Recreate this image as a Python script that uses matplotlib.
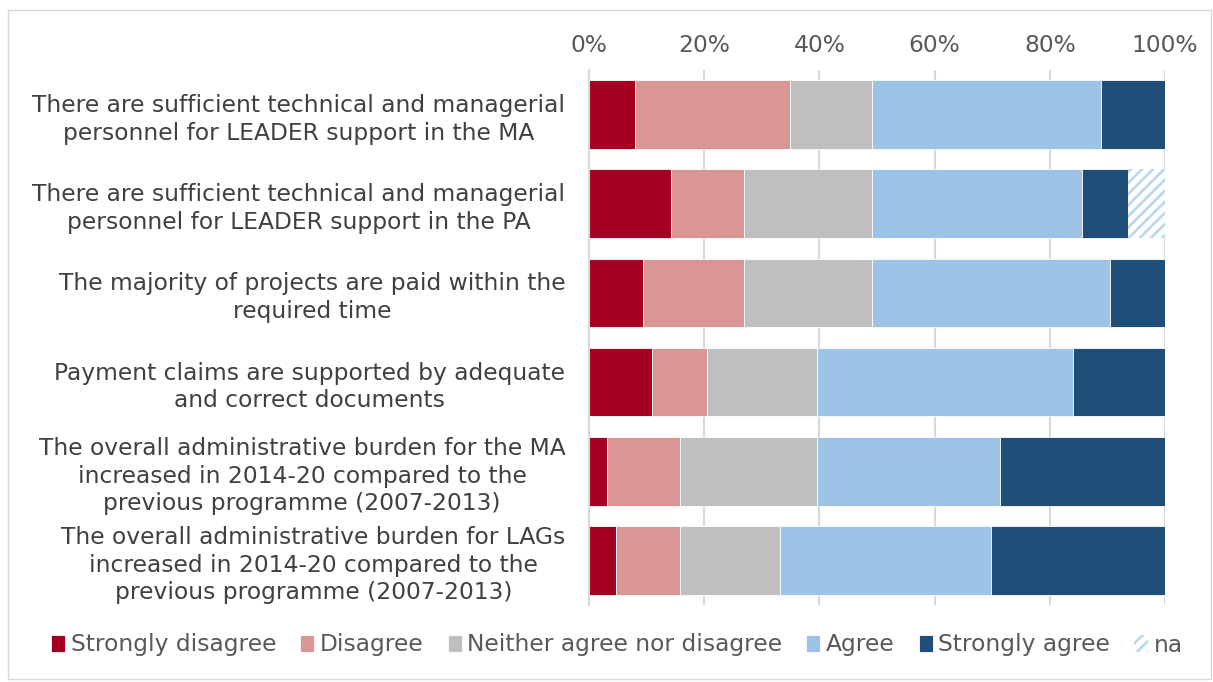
import numpy as np
import matplotlib.pyplot as plt
from matplotlib.patches import Rectangle
from matplotlib.ticker import PercentFormatter

plt.rcParams['font.family'] = ['DejaVu Sans']
plt.rcParams['hatch.linewidth'] = 2.0

statements = [
    "There are sufficient technical and managerial\npersonnel for LEADER support in the MA",
    "There are sufficient technical and managerial\npersonnel for LEADER support in the PA",
    "The majority of projects are paid within the\nrequired time",
    "Payment claims are supported by adequate\nand correct documents",
    "The overall administrative burden for the MA\nincreased in 2014-20 compared to the\nprevious programme (2007-2013)",
    "The overall administrative burden for LAGs\nincreased in 2014-20 compared to the\nprevious programme (2007-2013)",
]
categories = ["Strongly disagree", "Disagree", "Neither agree nor disagree",
              "Agree", "Strongly agree", "na"]

strongly_disagree = [7.9, 14.2, 9.4, 11.0, 3.1, 4.7]
disagree = [27.0, 12.7, 17.5, 9.5, 12.7, 11.1]
neither = [14.2, 22.2, 22.2, 19.1, 23.8, 17.4]
agree = [39.8, 36.5, 41.3, 44.5, 31.7, 36.6]
strongly_agree = [11.1, 7.9, 9.6, 15.9, 28.7, 30.2]
na = [0.0, 6.5, 0.0, 0.0, 0.0, 0.0]

series = [strongly_disagree, disagree, neither, agree, strongly_agree, na]
colors = ["#A50021", "#DA9694", "#BFBFBF", "#9DC3E6", "#1F4E79", "white"]

fs = 16.8

fig = plt.figure(figsize=(12.13, 6.82), dpi=100)
ax = fig.add_axes([589 / 1213, 1 - 605 / 682, 576 / 1213, 535 / 682])

y = np.arange(len(statements))
left = np.zeros(len(statements))
handles = []
for name, vals, col in zip(categories, series, colors):
    vals = np.array(vals)
    if name == "na":
        h = ax.barh(y, vals, left=left, height=0.77, color="white",
                    edgecolor="#BDD7EE", hatch="///", linewidth=0, label=name)
    else:
        h = ax.barh(y, vals, left=left, height=0.77, color=col,
                    edgecolor="white", linewidth=0.6, label=name)
    handles.append(h)
    left += vals

ax.set_xlim(0, 100)
ax.set_ylim(len(statements) - 0.5, -0.5)
ax.xaxis.tick_top()
ax.xaxis.set_major_formatter(PercentFormatter(decimals=0))
ax.set_xticks(np.arange(0, 101, 20))
ax.tick_params(axis="x", length=0, labelsize=fs, labelcolor="#595959", pad=9)
ax.set_yticks(y)
ax.set_yticklabels(statements, fontsize=fs, color="#404040",
                   multialignment="center", linespacing=1.25)
ax.tick_params(axis="y", length=0, pad=17)
ax.grid(axis="x", color="#D9D9D9", linewidth=1.5)
ax.set_axisbelow(True)
for s in ["top", "right", "bottom"]:
    ax.spines[s].set_visible(False)
ax.spines["left"].set_color("#D9D9D9")
ax.spines["left"].set_linewidth(1.5)

leg = fig.legend(handles=handles, labels=categories, loc="center left",
                 bbox_to_anchor=(30 / 1213, 1 - 645 / 682), ncol=6,
                 frameon=False, fontsize=fs, handlelength=0.6,
                 handleheight=0.75, handletextpad=0.25, columnspacing=1.02)
for t in leg.get_texts():
    t.set_color("#595959")

fig.patches.append(Rectangle((8 / 1213, 0.005), 1 - 10 / 1213, 1 - 13 / 682,
                             transform=fig.transFigure, fill=False,
                             edgecolor="#D9D9D9", linewidth=1))

fig.savefig("out.png", dpi=100)
